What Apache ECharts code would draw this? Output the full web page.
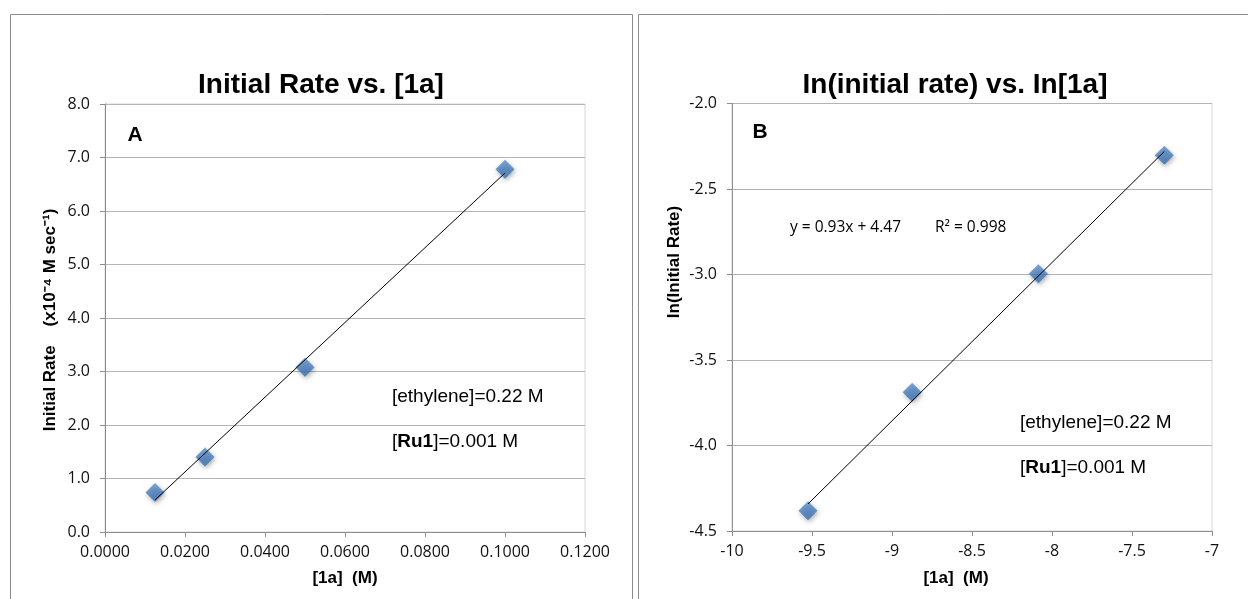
<!DOCTYPE html>
<html>
<head>
<meta charset="utf-8">
<script src="https://cdn.jsdelivr.net/npm/echarts@6/dist/echarts.min.js"></script>
<style>
html, body { margin: 0; background: #fff; }
#main { width: 1248px; height: 599px; }
</style>
</head>
<body>
<div id="main"></div>
<script>
// panel A: [1a] (M) vs initial rate (x10^-4 M/s)
var concA = [0.0125, 0.025, 0.05, 0.1];
var rateA = [0.74, 1.40, 3.08, 6.78];
// panel B: ln values
var lnX = [-9.525, -8.874, -8.085, -7.298];
var lnY = [-4.382, -3.689, -2.996, -2.303];

var titleA = 'Initial Rate vs. [1a]';
var titleB = 'In(initial rate) vs. In[1a]';
var yNameA = 'Initial Rate    (x10\u207B\u2074 M sec\u207B\u00B9)';
var yNameB = 'In(Initial Rate)';
var xName = '[1a]  (M)';
var eqText = 'y = 0.93x + 4.47';
var r2Text = 'R\u00B2 = 0.998';

// least squares trendline, first to last x
function trend(xs, ys) {
    var n = xs.length, mx = 0, my = 0;
    for (var i = 0; i < n; i++) { mx += xs[i]; my += ys[i]; }
    mx /= n; my /= n;
    var sxy = 0, sxx = 0;
    for (var i = 0; i < n; i++) {
        sxy += (xs[i] - mx) * (ys[i] - my);
        sxx += (xs[i] - mx) * (xs[i] - mx);
    }
    var b = sxy / sxx, a = my - b * mx;
    return [[xs[0], a + b * xs[0]], [xs[n - 1], a + b * xs[n - 1]]];
}
function pairs(xs, ys) {
    return xs.map(function (x, i) { return [x, ys[i]]; });
}

var axisGray = '#8e8e8e';
var tickFont = { fontFamily: 'Open Sans', fontSize: 16, color: '#111' };

function xAxisOf(g, min, max, interval, fmt) {
    return {
        type: 'value', gridIndex: g, min: min, max: max, interval: interval,
        axisLine: { show: true, onZero: false, lineStyle: { color: axisGray } },
        axisTick: { show: true, length: 5, lineStyle: { color: axisGray } },
        splitLine: { show: false },
        axisLabel: Object.assign({ margin: 12, formatter: fmt }, tickFont)
    };
}
function yAxisOf(g, min, max, interval) {
    return {
        type: 'value', gridIndex: g, min: min, max: max, interval: interval,
        axisLine: { show: true, onZero: false, lineStyle: { color: axisGray } },
        axisTick: { show: true, length: 5, lineStyle: { color: axisGray } },
        splitLine: { show: true, lineStyle: { color: '#b4b4b4' } },
        axisLabel: Object.assign({ margin: 15, formatter: function (v) { return v.toFixed(1); } }, tickFont)
    };
}

var diamond = {
    color: new echarts.graphic.LinearGradient(0, 0, 0, 1, [
        { offset: 0, color: '#5890d2' }, { offset: 1, color: '#396cab' }
    ]),
    shadowBlur: 5, shadowColor: 'rgba(0,0,0,0.4)', shadowOffsetX: 1, shadowOffsetY: 2
};

function txt(x, y, text, size, weight, align, rot, family) {
    var t = {
        type: 'text', x: x, y: y,
        style: {
            text: text, fontSize: size, fontWeight: weight || 'normal',
            fontFamily: family || 'Liberation Sans', fill: '#000',
            align: align || 'center', verticalAlign: 'middle'
        }
    };
    if (rot) t.rotation = rot;
    return t;
}
function ruText(x, y) {
    return {
        type: 'text', x: x, y: y,
        style: {
            text: '[{b|Ru1}]=0.001 M', fontSize: 19, fontFamily: 'Liberation Sans', fill: '#000',
            align: 'left', verticalAlign: 'middle',
            rich: { b: { fontSize: 19, fontFamily: 'Liberation Sans', fontWeight: 'bold', fill: '#000' } }
        }
    };
}

var myChart = echarts.init(document.getElementById('main'));
var option = {
    backgroundColor: '#fff',
    animation: false,
    grid: [
        { left: 105, top: 104, width: 480, height: 428, show: true, borderColor: '#d6d6d6', borderWidth: 1, containLabel: false, outerBoundsMode: 'none' },
        { left: 732, top: 103.5, width: 480, height: 427.5, show: true, borderColor: '#d6d6d6', borderWidth: 1, containLabel: false, outerBoundsMode: 'none' }
    ],
    xAxis: [
        xAxisOf(0, 0, 0.12, 0.02, function (v) { return v.toFixed(4); }),
        xAxisOf(1, -10, -7, 0.5, function (v) { return String(Math.round(v * 10) / 10); })
    ],
    yAxis: [
        yAxisOf(0, 0, 8, 1),
        yAxisOf(1, -4.5, -2, 0.5)
    ],
    series: [
        { type: 'scatter', xAxisIndex: 0, yAxisIndex: 0, symbol: 'diamond', symbolSize: 19, itemStyle: diamond, data: pairs(concA, rateA), z: 2 },
        { type: 'line', xAxisIndex: 0, yAxisIndex: 0, symbol: 'none', lineStyle: { color: '#000', width: 1 }, data: trend(concA, rateA), z: 3 },
        { type: 'scatter', xAxisIndex: 1, yAxisIndex: 1, symbol: 'diamond', symbolSize: 19, itemStyle: diamond, data: pairs(lnX, lnY), z: 2 },
        { type: 'line', xAxisIndex: 1, yAxisIndex: 1, symbol: 'none', lineStyle: { color: '#000', width: 1 }, data: trend(lnX, lnY), z: 3 }
    ],
    graphic: [
        { type: 'rect', shape: { x: 10.5, y: 14.5, width: 622, height: 620 }, style: { fill: 'none', stroke: '#8c8c8c', lineWidth: 1 } },
        { type: 'rect', shape: { x: 638.5, y: 14.5, width: 640, height: 620 }, style: { fill: 'none', stroke: '#8c8c8c', lineWidth: 1 } },
        txt(321, 85, titleA, 28, 'bold'),
        txt(955, 85, titleB, 28, 'bold'),
        txt(135, 135, 'A', 21, 'bold'),
        txt(760, 132, 'B', 21, 'bold'),
        txt(50, 320, yNameA, 17, 'bold', 'center', Math.PI / 2),
        txt(674, 262, yNameB, 17, 'bold', 'center', Math.PI / 2),
        txt(345, 578, xName, 17, 'bold'),
        txt(956, 578, xName, 17, 'bold'),
        txt(392, 397, '[ethylene]=0.22 M', 19, 'normal', 'left'),
        ruText(392, 442),
        txt(1020, 423, '[ethylene]=0.22 M', 19, 'normal', 'left'),
        ruText(1020, 468),
        txt(790, 228, eqText, 15.5, 'normal', 'left', 0, 'Open Sans'),
        txt(935, 228, r2Text, 15.5, 'normal', 'left', 0, 'Open Sans')
    ]
};
myChart.setOption(option);
</script>
</body>
</html>
